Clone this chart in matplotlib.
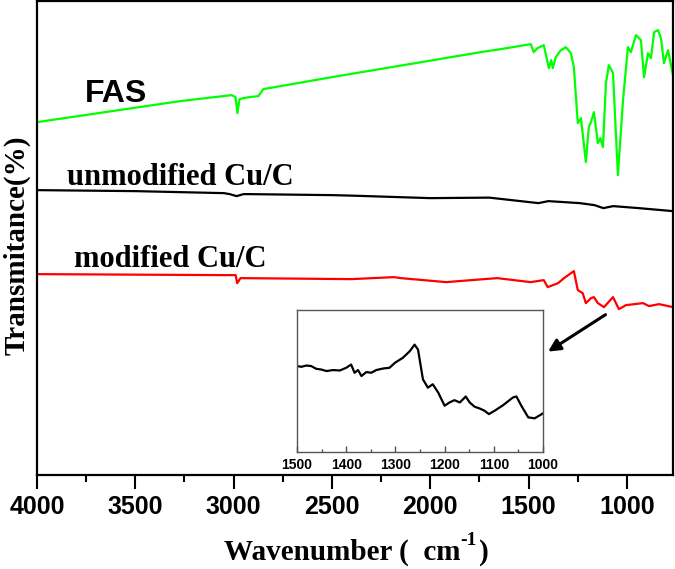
import numpy as np
import matplotlib
matplotlib.use("Agg")
import matplotlib.pyplot as plt
from matplotlib.ticker import MultipleLocator

# FAS spectrum (wavenumber, transmittance in arbitrary %)
fas_wn = [4000, 3272, 3010, 2990, 2981, 2970, 2951, 2920, 2874, 2849, 2500, 2000,
          1744, 1642, 1489, 1474, 1455, 1423, 1397, 1385, 1377, 1362, 1336, 1311,
          1285, 1270, 1250, 1234, 1209, 1194, 1183, 1168, 1148, 1135, 1122, 1107,
          1092, 1071, 1046, 1020, 995, 980, 954, 929, 913, 893, 878, 862, 842,
          827, 812, 791, 766]
fas_t = [70.6, 74.8, 76.0, 75.6, 72.4, 75.2, 75.4, 75.6, 75.8, 77.2, 79.6, 82.9,
         84.6, 85.2, 86.2, 84.6, 85.4, 86.0, 81.4, 83.0, 81.4, 83.6, 85.0, 85.6,
         84.4, 81.6, 70.4, 71.4, 62.6, 69.6, 70.6, 72.6, 66.4, 67.4, 65.6, 78.4,
         82.0, 80.4, 60.0, 75.0, 85.6, 84.6, 88.0, 87.0, 79.6, 84.4, 83.4, 88.6,
         89.0, 87.4, 82.4, 85.0, 80.0]

# unmodified Cu/C
unmod_wn = [4000, 3500, 3050, 3020, 2985, 2950, 2920, 2500, 2400, 2000, 1700,
            1450, 1400, 1240, 1165, 1120, 1070, 940, 766]
unmod_t = [57.0, 56.8, 56.4, 56.2, 55.8, 56.2, 56.2, 56.0, 55.9, 55.4, 55.5,
           54.4, 54.8, 54.4, 54.0, 53.4, 53.8, 53.4, 52.8]

# modified Cu/C
mod_wn = [4000, 3050, 2990, 2982, 2965, 2400, 2185, 2150, 1920, 1660, 1490,
          1423, 1403, 1350, 1320, 1270, 1250, 1225, 1209, 1183, 1168, 1148,
          1117, 1071, 1041, 1005, 918, 888, 837, 766]
mod_t = [40.2, 40.0, 40.0, 38.4, 39.4, 39.2, 39.6, 39.4, 38.6, 39.4, 38.6,
         39.0, 37.6, 38.4, 39.4, 40.8, 37.0, 36.4, 34.4, 35.4, 35.6, 34.4,
         33.6, 35.6, 33.2, 34.0, 34.4, 33.8, 34.2, 33.6]

# inset: modified Cu/C between 1500 and 1000
ins_wn = [1500, 1491, 1481, 1471, 1461, 1451, 1440, 1427, 1413, 1400, 1390,
          1383, 1376, 1369, 1359, 1349, 1339, 1325, 1312, 1301, 1285, 1271,
          1261, 1254, 1244, 1234, 1224, 1213, 1200, 1190, 1180, 1169, 1157,
          1149, 1139, 1129, 1119, 1110, 1098, 1081, 1061, 1054, 1044, 1030,
          1017, 1000]
ins_t = [60.5, 60.0, 60.9, 60.5, 58.6, 58.1, 57.0, 57.7, 57.4, 59.3, 61.6,
         55.8, 57.7, 53.5, 56.3, 55.8, 57.7, 58.8, 59.3, 62.8, 66.3, 70.9,
         75.6, 72.1, 51.2, 45.3, 47.7, 41.9, 32.6, 34.9, 36.5, 34.9, 39.1,
         34.9, 31.9, 30.7, 29.1, 26.7, 29.1, 33.0, 38.4, 39.1, 32.6, 24.4,
         23.7, 27.2]

serif = "Liberation Serif"
sans = "Liberation Sans"

fig = plt.figure(figsize=(6.75, 5.69), dpi=100)
ax = fig.add_axes([0.0548, 0.165, 0.9422, 0.833])

ax.plot(fas_wn, fas_t, color="#00ff00", lw=1.6)
ax.plot(unmod_wn, unmod_t, color="black", lw=1.6)
ax.plot(mod_wn, mod_t, color="red", lw=1.6)

ax.set_xlim(4000, 766)
ax.set_ylim(0, 94.8)
ax.xaxis.set_major_locator(MultipleLocator(500))
ax.xaxis.set_minor_locator(MultipleLocator(250))
ax.tick_params(axis="x", which="major", direction="out", length=10, width=1.5, pad=4)
ax.tick_params(axis="x", which="minor", direction="out", length=5, width=1.5)
ax.set_yticks([])
for sp in ax.spines.values():
    sp.set_linewidth(1.6)
for lab in ax.get_xticklabels():
    lab.set_fontfamily(sans)
    lab.set_fontweight("bold")
    lab.set_fontsize(18)

ax.set_ylabel("Transmitance(%)", fontfamily=serif, fontweight="bold", fontsize=21)
ax.yaxis.set_label_coords(-0.01, 0.485)

# x label built from pieces so the superscript uses a short hyphen
t1 = fig.text(0.332, 0.017, "Wavenumber (  cm", fontfamily=serif,
              fontweight="bold", fontsize=21, ha="left", va="baseline")
t2 = ax.annotate("-1", xy=(1.0, 0.62), xycoords=t1, fontfamily=serif,
                 fontweight="bold", fontsize=14, ha="left", va="bottom",
                 annotation_clip=False)
ax.annotate(")", xy=(1.0, 0.0), xycoords=t1, xytext=(13, 0),
            textcoords="offset points", fontfamily=serif, fontweight="bold",
            fontsize=21, ha="left", va="bottom", annotation_clip=False)

ax.text(3755, 76.3, "FAS", fontfamily=sans, fontweight="bold", fontsize=23,
        va="center", ha="left")
ax.text(3845, 58.0, "unmodified Cu/C", fontfamily=serif, fontweight="bold",
        fontsize=22, va="baseline", ha="left")
ax.text(3812, 41.6, "modified Cu/C", fontfamily=serif, fontweight="bold",
        fontsize=22, va="baseline", ha="left")

ax.annotate("", xy=(1413, 24.4), xytext=(1097, 32.4),
            arrowprops=dict(arrowstyle="-|>", color="black", lw=2.2,
                            mutation_scale=18))

# inset
axi = fig.add_axes([0.44, 0.2056, 0.3644, 0.2496])
axi.plot(ins_wn, ins_t, color="black", lw=1.6)
axi.set_xlim(1500, 1000)
axi.set_ylim(0, 100)
axi.set_yticks([])
axi.xaxis.set_major_locator(MultipleLocator(100))
axi.xaxis.set_minor_locator(MultipleLocator(50))
axi.tick_params(axis="x", which="major", direction="in", length=4, width=1,
                color="#555555", pad=4)
axi.tick_params(axis="x", which="minor", direction="in", length=2, width=1,
                color="#555555")
for sp in axi.spines.values():
    sp.set_linewidth(1)
    sp.set_color("#555555")
for lab in axi.get_xticklabels():
    lab.set_fontfamily(sans)
    lab.set_fontweight("bold")
    lab.set_fontsize(10)

fig.savefig("out.png", dpi=100)
